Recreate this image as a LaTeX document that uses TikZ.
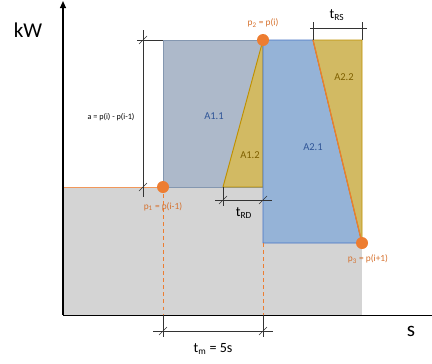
\documentclass[tikz,border=0pt]{standalone}
\usepackage{fontspec}
\setmainfont{Carlito}
\usetikzlibrary{arrows.meta,positioning}
\definecolor{ldOrange}{HTML}{ED7D31}
\definecolor{ldGrey}{HTML}{D4D4D4}
\definecolor{ldSlate}{HTML}{ADB9CA}
\definecolor{ldSlateEdge}{HTML}{8497B0}
\definecolor{ldBlue}{HTML}{95B3D7}
\definecolor{ldBlueEdge}{HTML}{4472C4}
\definecolor{ldGold}{HTML}{D2BA63}
\definecolor{ldGoldEdge}{HTML}{BF9000}
\definecolor{ldBlueText}{HTML}{2F5597}
\definecolor{ldGoldText}{HTML}{7F6000}
\newcommand{\dimtick}[1]{\draw[dimline] (#1) ++(-4,4) -- ++(8,-8);}

\begin{document}
\begin{tikzpicture}[x=0.03cm,y=-0.03cm,
    every node/.style={font=\fontsize{9}{10}\selectfont},
    dot/.style={circle,fill=ldOrange,inner sep=0pt,minimum size=0.36cm},
    dimline/.style={draw=black!80,line width=0.5pt},
    ptlabel/.style={text=ldOrange!90!black,font=\fontsize{8}{9}\selectfont},
    blueArea/.style={text=ldBlueText},
    goldArea/.style={text=ldGoldText},
    dimlabel/.style={font=\fontsize{12}{13}\selectfont}]
  \useasboundingbox (0,0) rectangle (432,363);
  % corners of the areas
  \coordinate (orig) at (63,315);
  \coordinate (ytip) at (63,1);
  \coordinate (xend) at (432,315);
  \coordinate (greyTop) at (63,187);
  \coordinate (greyEnd) at (362,315);
  \coordinate (slateTop) at (163,40);
  \coordinate (rampTop) at (313,40);
  \coordinate (cornerTop) at (362,40);
  \coordinate (rdFoot) at (223,187);
  \coordinate (midFoot) at (263,187);
  \coordinate (blueFoot) at (263,243);
  \coordinate (p1c) at (163,187);
  \coordinate (p2c) at (263,40);
  \coordinate (p3c) at (362,243);
  \coordinate (tmL) at (163,315);
  \coordinate (tmR) at (263,315);

  \fill[ldGrey] (greyTop) rectangle (greyEnd);
  \draw[ldOrange!80,line width=0.6pt] (greyTop) -- (midFoot);
  \filldraw[fill=ldSlate,draw=ldSlateEdge,line width=0.6pt] (p1c) rectangle (p2c);
  \filldraw[fill=ldGold,draw=ldGoldEdge,line width=0.8pt] (p2c) -- (rdFoot) -- (midFoot) -- cycle;
  \filldraw[fill=ldBlue,draw=ldBlueEdge,line width=0.6pt] (p2c) -- (rampTop) -- (p3c) -- (blueFoot) -- cycle;
  \filldraw[fill=ldGold,draw=ldGoldEdge,line width=0.8pt] (rampTop) -- (cornerTop) -- (p3c) -- cycle;
  \draw[ldOrange,line width=1pt] (rampTop) -- (p3c);
  \draw[ldOrange,dashed,line width=0.6pt] (p1c) -- (tmL);
  \draw[ldOrange,dashed,line width=0.6pt] (blueFoot) -- (tmR);

  % axes
  \draw[line width=0.6pt] (orig) -- (xend);
  \draw[line width=1.2pt,-{Triangle[length=6pt,width=5pt]}] (orig) -- (ytip);
  \node[font=\fontsize{18}{20}\selectfont] (kw) at (28,30) {kW};
  \node[font=\fontsize{18}{20}\selectfont] (sec) at (411,331) {s};

  % area labels
  \node[blueArea] (a11) at (214,116) {A1.1};
  \node[goldArea] (a12) at (250,155) {A1.2};
  \node[blueArea] (a21) at (313,147) {A2.1};
  \node[goldArea] (a22) at (344,77) {A2.2};

  % points
  \node[dot] (p1) at (p1c) {};
  \node[dot] (p2) at (p2c) {};
  \node[dot] (p3) at (p3c) {};
  \node[ptlabel] (p1lab) at (163,207) {p\textsubscript{1} = p(i-1)};
  \node[ptlabel] (p2lab) at (263,23) {p\textsubscript{2} = p(i)};
  \node[ptlabel] (p3lab) at (368,259) {p\textsubscript{3} = p(i+1)};

  % dimension a
  \coordinate (aTop) at (143,30);
  \coordinate (aBot) at (143,197);
  \coordinate (aExt) at (137,40);
  \coordinate (aTick1) at (143,40);
  \coordinate (aTick2) at (143,187);
  \draw[dimline] (aTop) -- (aBot);
  \draw[dimline] (aExt) -- (slateTop);
  \dimtick{aTick1}
  \dimtick{aTick2}
  \node[font=\fontsize{7}{8}\selectfont] (alab) at (111,117) {a = p(i) - p(i-1)};

  % dimension t_RD
  \coordinate (rdL) at (215,200);
  \coordinate (rdR) at (272,200);
  \coordinate (rdExt) at (223,206);
  \coordinate (rdTick1) at (223,200);
  \coordinate (rdTick2) at (263,200);
  \draw[dimline] (rdL) -- (rdR);
  \draw[dimline] (rdFoot) -- (rdExt);
  \dimtick{rdTick1}
  \dimtick{rdTick2}
  \node[dimlabel] (rdlab) at (244,213) {t\textsubscript{RD}};

  % dimension t_RS
  \coordinate (rsL) at (310,28);
  \coordinate (rsR) at (367,28);
  \coordinate (rsExt1) at (313,22);
  \coordinate (rsExt2) at (362,22);
  \draw[dimline] (rsL) -- (rsR);
  \draw[dimline] (rsExt1) -- (rampTop);
  \draw[dimline] (rsExt2) -- (cornerTop);
  \node[dimlabel] (rslab) at (337,15) {t\textsubscript{RS}};

  % dimension t_m
  \coordinate (tmExt1) at (163,337);
  \coordinate (tmExt2) at (263,337);
  \coordinate (tmA) at (153,331);
  \coordinate (tmB) at (273,331);
  \coordinate (tmTick1) at (163,331);
  \coordinate (tmTick2) at (263,331);
  \draw[dimline] (tmL) -- (tmExt1);
  \draw[dimline] (tmR) -- (tmExt2);
  \draw[dimline] (tmA) -- (tmB);
  \dimtick{tmTick1}
  \dimtick{tmTick2}
  \node[dimlabel] (tmlab) at (213,349) {t\textsubscript{m} = 5s};
\end{tikzpicture}
\end{document}
